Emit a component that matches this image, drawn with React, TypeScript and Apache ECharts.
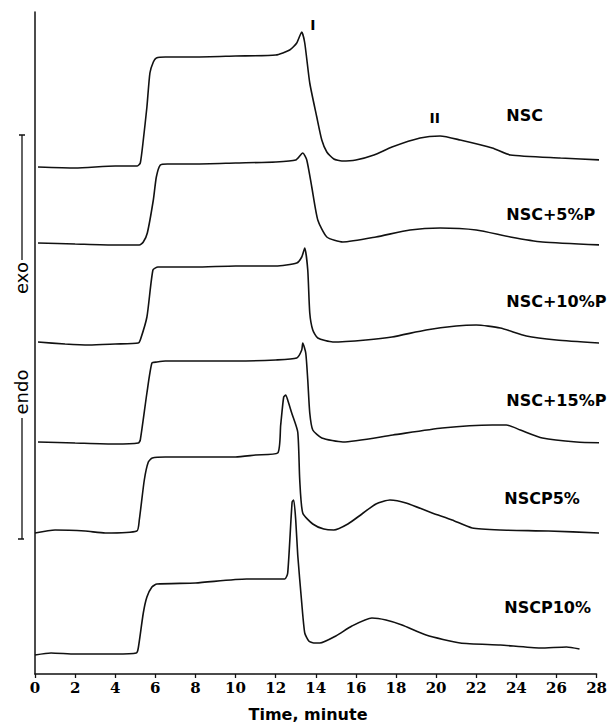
import React, { useEffect, useRef } from "react";
import * as echarts from "echarts";

// Time (minute) vs. heat-flow signal (arbitrary units, curves offset vertically)
const nsc: [number, number][] = [
  [0.15, 507], [2, 506], [4, 508], [5.1, 508], [5.25, 511], [5.4, 534], [5.58, 567], [5.73, 601],
  [5.9, 612], [6.05, 616], [6.5, 617], [8, 617], [10, 618], [12, 619], [12.7, 624], [13.05, 631],
  [13.3, 642], [13.45, 631], [13.7, 591], [14.05, 557], [14.3, 534], [14.55, 522], [14.9, 515],
  [15.3, 513], [16.0, 514], [16.9, 519], [17.8, 527], [19.2, 536], [20.2, 538], [21.2, 534],
  [22.8, 526], [23.7, 519], [26.2, 516], [28.3, 514],
];
const nsc5p: [number, number][] = [
  [0.15, 431], [2, 430], [4, 429], [5.2, 429], [5.4, 432], [5.6, 441], [5.9, 474], [6.05, 497],
  [6.25, 509], [6.6, 510], [8, 510], [10, 511], [12, 512], [13.0, 514], [13.35, 521], [13.55, 514],
  [13.8, 487], [14.1, 454], [14.55, 437], [15.35, 432], [17.0, 437], [18.7, 444], [20.2, 446],
  [22.0, 444], [23.7, 437], [25.3, 432], [28.3, 429],
];
const nsc10p: [number, number][] = [
  [0.15, 332], [1.5, 330], [2.7, 329], [4, 330], [5.15, 331], [5.25, 334], [5.58, 357], [5.88, 404],
  [6.13, 407], [8, 407], [10, 408], [12, 408], [13.05, 411], [13.3, 417], [13.45, 426], [13.6, 404],
  [13.7, 361], [13.85, 344], [14.1, 336], [14.85, 332], [16.5, 334], [17.8, 337], [19.5, 344],
  [21, 348], [22, 349], [23.2, 346], [24.5, 338], [26, 334], [28.15, 331],
];
const nsc15p: [number, number][] = [
  [0.15, 232], [2, 231], [4, 230], [5.15, 231], [5.25, 234], [5.58, 281], [5.83, 311], [6.08, 312],
  [6.5, 313], [8, 313], [10, 313], [12, 314], [13.05, 316], [13.3, 324], [13.35, 331], [13.5, 321],
  [13.6, 294], [13.7, 261], [13.85, 244], [14.3, 236], [15.35, 232], [17.84, 239], [20.3, 246],
  [22.8, 249], [23.5, 249], [24.2, 244], [25.3, 236], [27, 232], [28.5, 231],
];
const nscp5: [number, number][] = [
  [0, 141], [1, 144], [2.5, 143], [3.5, 141], [5.08, 143], [5.2, 154], [5.45, 194], [5.65, 212],
  [5.85, 216], [6.5, 217], [8, 217], [10, 217], [11, 219], [12.1, 221], [12.25, 249], [12.4, 277],
  [12.5, 279], [12.6, 274], [12.8, 261], [13.1, 242], [13.2, 194], [13.35, 161], [13.85, 150],
  [14.4, 145], [14.9, 144], [15.6, 150], [16.3, 160], [17.0, 170], [17.7, 174], [18.5, 171],
  [19.8, 161], [20.8, 154], [21.8, 146], [23.2, 144], [25.6, 143], [28.15, 141],
];
const nscp10: [number, number][] = [
  [0, 19], [0.8, 21], [2, 20], [4, 20], [5.05, 21], [5.15, 26], [5.4, 61], [5.58, 77], [5.83, 87],
  [6.08, 90], [8, 91], [10.55, 95], [12.45, 95], [12.6, 101], [12.82, 172], [12.9, 174], [13.0, 154],
  [13.1, 119], [13.3, 71], [13.45, 41], [13.65, 33], [13.9, 31], [14.2, 31], [15.0, 38], [15.8, 48],
  [16.8, 56], [17.5, 54], [18.3, 49], [19.5, 39], [21.2, 31], [23.2, 29], [25.2, 26], [26.5, 27],
  [27.15, 25],
];

const curves = [nsc, nsc5p, nsc10p, nsc15p, nscp5, nscp10];
const curveNames = ["NSC", "NSC+5%P", "NSC+10%P", "NSC+15%P", "NSCP5%", "NSCP10%"];
const curveLabelTime = [23.5, 23.5, 23.5, 23.5, 23.4, 23.4];
const curveLabelLevel = [559, 460, 373, 274, 176, 67];
const peakNames = ["I", "II"];
const peakLabelTime = [13.85, 19.93];
const peakLabelLevel = [649, 556];

const X_MIN = 0;
const X_MAX = 28;
const X_STEP = 2;
const Y_MIN = 0;
const Y_MAX = 662;

const INK = "#000";

export default function App() {
  const ref = useRef<HTMLDivElement>(null);
  useEffect(() => {
    document.body.style.margin = "0";
    if (!ref.current) return;
    const chart = echarts.init(ref.current, undefined, { renderer: "svg" });
    const lineSeries = curves.map((c, i) => ({
      type: "line",
      name: curveNames[i],
      data: c,
      showSymbol: false,
      symbol: "none",
      smooth: 0.2,
      clip: false,
      lineStyle: { color: "#111", width: 1.6 },
      silent: true,
    }));
    const labelSeries = (names: string[], times: number[], levels: number[], size: number, align: string) => ({
      type: "scatter",
      symbolSize: 0,
      silent: true,
      clip: false,
      itemStyle: { color: INK, opacity: 1 },
      data: names.map((n, i) => ({ name: n, value: [times[i], levels[i]] })),
      label: {
        show: true,
        formatter: "{b}",
        position: "right",
        distance: 0,
        align,
        color: INK,
        opacity: 1,
        textBorderWidth: 0,
        fontFamily: "DejaVu Sans",
        fontWeight: "bold",
        fontSize: size,
      },
    });
    chart.setOption({
      animation: false,
      backgroundColor: "#fff",
      grid: { left: 35, right: 13, top: 12, bottom: 49 },
      xAxis: {
        type: "value",
        min: X_MIN,
        max: X_MAX,
        interval: X_STEP,
        axisLine: { show: true, lineStyle: { color: "#111", width: 1.5 } },
        axisTick: { show: true, length: 4, lineStyle: { color: "#111", width: 1.3 } },
        splitLine: { show: false },
        axisLabel: {
          color: INK,
          fontFamily: "DejaVu Serif",
          fontWeight: "bold",
          fontSize: 15,
          margin: 6,
        },
      },
      yAxis: {
        type: "value",
        min: Y_MIN,
        max: Y_MAX,
        axisLine: { show: true, lineStyle: { color: "#111", width: 1.5 } },
        axisTick: { show: false },
        axisLabel: { show: false },
        splitLine: { show: false },
      },
      series: [
        ...lineSeries,
        labelSeries(curveNames, curveLabelTime, curveLabelLevel, 16, "left"),
        labelSeries(peakNames, peakLabelTime, peakLabelLevel, 14, "center"),
      ],
      graphic: [
        { type: "line", shape: { x1: 22, y1: 135, x2: 22, y2: 260 }, style: { stroke: "#111", lineWidth: 1.3 } },
        { type: "line", shape: { x1: 22, y1: 418, x2: 22, y2: 539 }, style: { stroke: "#111", lineWidth: 1.3 } },
        { type: "line", shape: { x1: 19, y1: 135, x2: 25, y2: 135 }, style: { stroke: "#111", lineWidth: 1.5 } },
        { type: "line", shape: { x1: 18, y1: 539, x2: 24, y2: 539 }, style: { stroke: "#111", lineWidth: 1.5 } },
        {
          type: "text",
          x: 21,
          y: 278,
          rotation: Math.PI / 2,
          style: {
            text: "exo",
            fill: INK,
            font: "18px 'DejaVu Sans'",
            textAlign: "center",
            textVerticalAlign: "middle",
          },
        },
        {
          type: "text",
          x: 21,
          y: 392,
          rotation: Math.PI / 2,
          style: {
            text: "endo",
            fill: INK,
            font: "18px 'DejaVu Sans'",
            textAlign: "center",
            textVerticalAlign: "middle",
          },
        },
        {
          type: "text",
          x: 308,
          y: 714,
          style: {
            text: "Time, minute",
            fill: INK,
            font: "bold 16px 'DejaVu Sans'",
            textAlign: "center",
            textVerticalAlign: "middle",
          },
        },
      ],
    });
    return () => chart.dispose();
  }, []);
  return <div ref={ref} style={{ width: 610, height: 723 }} />;
}
